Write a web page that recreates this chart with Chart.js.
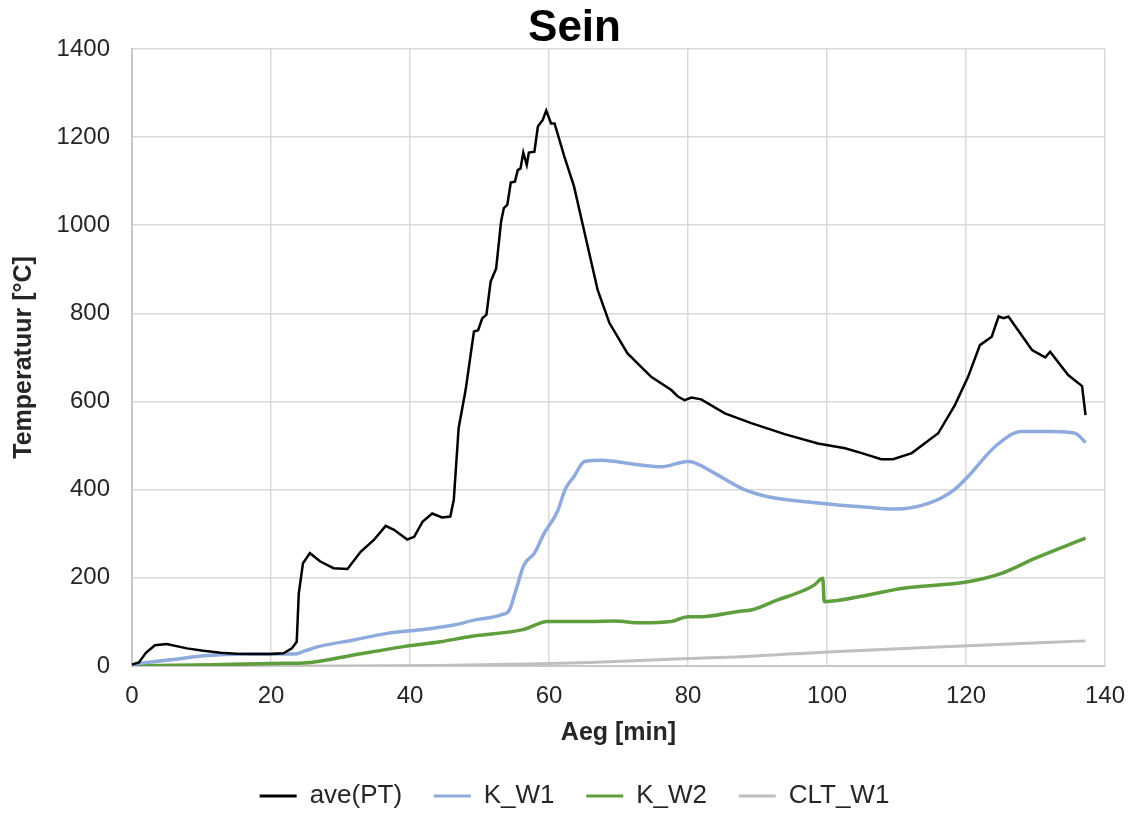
<!DOCTYPE html>
<html>
<head>
<meta charset="utf-8">
<script src="https://cdn.jsdelivr.net/npm/chart.js@4.4.1/dist/chart.umd.min.js"></script>
<style>
  body { margin: 0; background: #fff; }
  #wrap { width: 1131px; height: 816px; position: relative; }
</style>
</head>
<body>
<div id="wrap"><canvas id="seinChart"></canvas></div>
<script>
// Andmed (loetud graafikult)
const seriesNames = ['ave(PT)', 'K_W1', 'K_W2', 'CLT_W1'];

const avePT_t = [0, 1, 2, 3.3, 5, 7.9, 10, 12.7, 15, 17, 20, 21.8, 23, 23.7, 24, 24.6, 25.6, 27.1, 29, 31,
  32.9, 34.8, 36.5, 37.7, 39.6, 40.6, 41.8, 43.2, 44.6, 45.8, 46.3, 47, 48, 49.2, 49.8, 50.4, 51, 51.6,
  52.4, 53.1, 53.5, 54, 54.5, 55.1, 55.5, 55.9, 56.3, 56.8, 57.1, 57.9, 58.4, 59.1, 59.6, 60.3, 60.8,
  62.2, 63.6, 64.8, 67, 68.7, 71.3, 74.7, 77.6, 78.5, 79.5, 80.5, 81.9, 85.3, 89.1, 93.9, 98.7, 102.6,
  105, 107.8, 109.5, 112.2, 116, 118.4, 120.3, 122, 123.7, 124.7, 125.4, 126.1, 129.5, 131.4, 132.1,
  134.7, 136.7, 137.2];
const avePT_v = [3, 8, 30, 47, 50, 40, 35, 30, 28, 27, 27, 29, 40, 55, 165, 233, 256, 237, 222, 220,
  259, 286, 318, 309, 287, 293, 327, 346, 337, 339, 377, 540, 626, 759, 762, 789, 797, 872,
  902, 1008, 1039, 1046, 1097, 1099, 1125, 1129, 1165, 1137, 1165, 1167, 1224, 1239, 1260, 1231, 1231,
  1156, 1088, 1005, 853, 778, 709, 656, 626, 612, 603, 609, 605, 573, 551, 526, 505, 494,
  483, 469, 469, 483, 528, 592, 656, 728, 747, 793, 789, 793, 717, 700, 713,
  660, 635, 569];

const kw1_t = [0, 1.2, 5.5, 10.3, 16.5, 23.3, 25, 27.1, 31.9, 36.7, 41.5, 46.3, 49.2, 53.1, 54.3, 55.2,
  56.4, 57.9, 59.3, 61.2, 62.4, 63.6, 65.1, 67.5, 70, 73.2, 76.1, 80, 81, 84.3, 87.7, 91.5, 98.7,
  105.9, 109.8, 114.6, 118, 120.3, 124.2, 128, 132.4, 135.7, 137.2];
const kw1_v = [2, 6, 14, 23, 27, 27, 35, 45, 59, 74, 82, 93, 104, 116, 127, 170,
  229, 256, 301, 350, 403, 430, 464, 467, 463, 456, 452, 464, 461, 433, 403, 384, 370,
  360, 356, 369, 396, 430, 498, 532, 532, 528, 507];

const kw2_t = [0, 11.7, 22, 25.7, 31.9, 39.1, 44.4, 48.7, 56.4, 59.8, 66, 69.4, 73.2, 77.6, 80, 81.9,
  87.7, 89.1, 92.9, 96.3, 98.2, 99.4, 99.6, 105.9, 110.7, 120.3, 125.1, 129.9, 137.2];
const kw2_v = [0, 3, 6, 8, 25, 44, 55, 67, 83, 101, 101, 102, 98, 101, 112, 112,
  125, 127, 150, 169, 184, 199, 146, 161, 176, 191, 210, 244, 290];

const cltw1_t = [0, 30, 44, 55, 66, 80, 87.7, 100, 120.3, 137.2];
const cltw1_v = [0, 0, 1, 4, 8, 17, 21, 32, 46, 57];

const xTicks = [0, 20, 40, 60, 80, 100, 120, 140];
const yTicks = [0, 200, 400, 600, 800, 1000, 1200, 1400];

const colors = ['#000000', '#8FAADC', '#5E9E3C', '#BFBFBF'];
const widths = [2.5, 3.5, 3.5, 3];

function toPoints(t, v) {
    return t.map((x, i) => ({ x: x, y: v[i] }));
}

const allSeries = [
    toPoints(avePT_t, avePT_v),
    toPoints(kw1_t, kw1_v),
    toPoints(kw2_t, kw2_v),
    toPoints(cltw1_t, cltw1_v)
];

const FONT = "'Liberation Sans', Arial, sans-serif";

const ctx = document.getElementById('seinChart');
new Chart(ctx, {
    type: 'line',
    data: {
        datasets: allSeries.map((pts, i) => ({
            label: seriesNames[i],
            data: pts,
            borderColor: colors[i],
            backgroundColor: colors[i],
            borderWidth: widths[i],
            pointRadius: 0,
            cubicInterpolationMode: i === 0 ? 'default' : 'monotone',
            tension: 0
        }))
    },
    options: {
        responsive: true,
        maintainAspectRatio: false,
        animation: false,
        layout: { padding: { left: 20, right: 2, top: 0, bottom: -3 } },
        plugins: {
            title: {
                display: true,
                text: 'Sein',
                color: '#000',
                font: { family: FONT, size: 44, weight: 'bold', lineHeight: 0.93 },
                padding: { top: 8, bottom: 0 }
            },
            legend: {
                position: 'bottom',
                labels: {
                    color: '#262626',
                    font: { family: FONT, size: 26 },
                    boxWidth: 37,
                    boxHeight: 3,
                    padding: 10,
                    generateLabels: function(chart) {
                        const items = Chart.defaults.plugins.legend.labels.generateLabels(chart);
                        items.forEach((it, i) => {
                            it.lineWidth = 0;
                            // lisavahe kirjete vahel
                            if (i < items.length - 1) it.text = it.text + '   ';
                        });
                        return items;
                    }
                }
            },
            tooltip: { enabled: false }
        },
        scales: {
            x: {
                type: 'linear',
                min: 0,
                max: 140,
                afterBuildTicks: s => { s.ticks = xTicks.map(v => ({ value: v })); },
                afterFit: s => { s.height = 107; s.paddingRight = 26; },
                grid: { color: '#D9D9D9', lineWidth: 1.5, drawTicks: false },
                border: { color: '#C8C8C8', width: 2 },
                ticks: { color: '#262626', padding: 16, font: { family: FONT, size: 24 },
                         callback: v => String(v) },
                title: {
                    display: true,
                    text: 'Aeg [min]',
                    color: '#262626',
                    font: { family: FONT, size: 25, weight: 'bold' },
                    padding: { top: 0, bottom: 25 }
                }
            },
            y: {
                min: 0,
                max: 1400,
                afterBuildTicks: s => { s.ticks = yTicks.map(v => ({ value: v })); },
                afterFit: s => { s.width = 112; },
                grid: { color: '#D9D9D9', lineWidth: 1.5, drawTicks: false },
                border: { color: '#C8C8C8', width: 2 },
                ticks: { color: '#262626', padding: 22, font: { family: FONT, size: 24 },
                         callback: v => String(v) },
                title: {
                    display: true,
                    text: 'Temperatuur [°C]',
                    color: '#262626',
                    font: { family: FONT, size: 25, weight: 'bold' },
                    padding: { top: -11, bottom: 0 }
                }
            }
        }
    }
});
</script>
</body>
</html>
